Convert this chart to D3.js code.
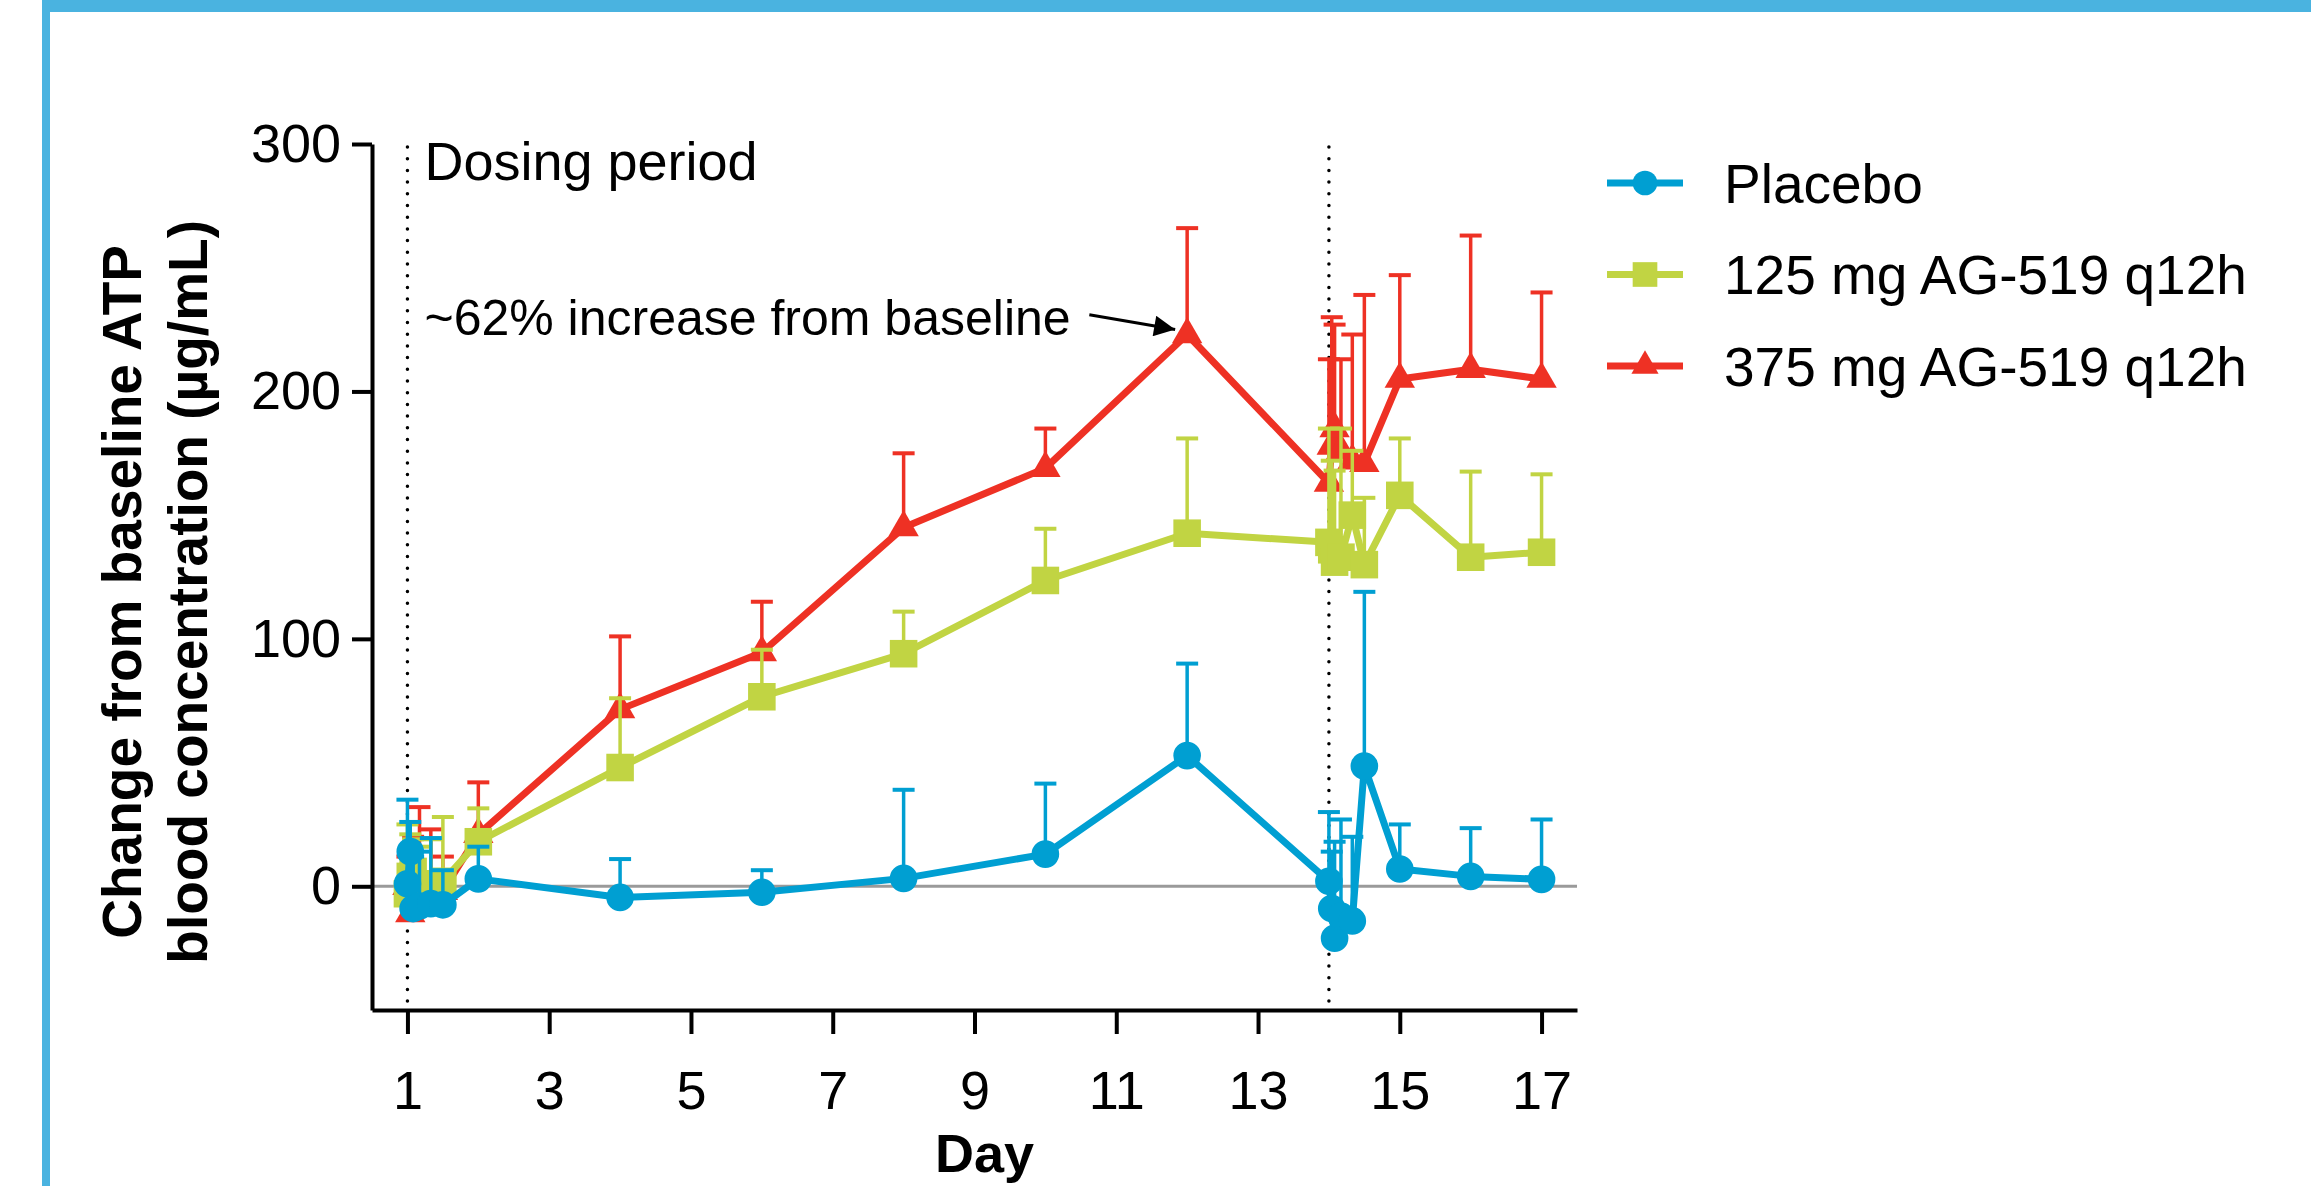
<!DOCTYPE html>
<html>
<head>
<meta charset="utf-8">
<script src="https://cdn.jsdelivr.net/npm/d3@7"></script>
<style>
  body { margin: 0; background: #fff; }
  svg { display: block; font-family: "Liberation Sans", Arial, sans-serif; }
</style>
</head>
<body>
<svg></svg>
<script>
// sampling days (day 1 and day 14 have hourly points: 0, 1, 2, 4, 8, 12 h)
var days = [1, 1.04, 1.08, 1.17, 1.33, 1.5, 2, 4, 6, 8, 10, 12,
            14, 14.04, 14.08, 14.17, 14.33, 14.5, 15, 16, 17];

// mean change from baseline and mean + SD (top of error bar)
var placeboMean  = [1, 14, -9, -8, -7, -7.5, 3, -4.5, -2.4, 3.2, 13, 52.8,
                    2, -9, -21, -12, -14, 48.6, 7, 4, 2.8];
var placeboUpper = [35, 26, 12, 14, 19.5, 6.5, 16, 11, 6.5, 39, 41.5, 90,
                    30, 14, 18, 27, 20, 119, 25, 23.5, 27];

var lowMean  = [-3, 4, 6, 1, 1, 2, 18, 48, 76.6, 94, 123.6, 142.7,
                139, 136, 131, 133, 150, 130, 158, 133, 135];
var lowUpper = [25, 21, 19, 16, 19, 28, 31.5, 76, 95.6, 111, 144.5, 181,
                185, 172, 168, 185, 176, 157, 181, 167.6, 166.5];

var highMean  = [0, -11, 3, 2, -3, -2, 21, 71.5, 94.5, 145, 169, 223,
                 163, 178, 185, 176, 172, 171, 205, 209, 205];
var highUpper = [12, 5, 20, 32, 23, 12, 42, 101, 115, 175, 185, 266,
                 213, 230, 227, 213, 223, 239, 247, 263, 240];

var seriesNames = ["Placebo", "125 mg AG-519 q12h", "375 mg AG-519 q12h"];
var xTicks = [1, 3, 5, 7, 9, 11, 13, 15, 17];
var yTicks = [0, 100, 200, 300];
var dosingDays = [1, 14];

var screen = { width: 2311, height: 1186 };
var margins = { top: 144, bottom: 176, left: 372, right: 734 };

var svg = d3.select('svg')
  .attr('width', screen.width)
  .attr('height', screen.height);

// blue frame of the slide
svg.append('rect').attr('x', 42).attr('y', 0).attr('width', screen.width - 42).attr('height', 12).attr('fill', '#4ab3e0');
svg.append('rect').attr('x', 42).attr('y', 0).attr('width', 8).attr('height', screen.height).attr('fill', '#4ab3e0');

var xScale = d3.scaleLinear()
  .domain([0.5, 17.5])
  .range([margins.left, screen.width - margins.right]);
var yScale = d3.scaleLinear()
  .domain([-50, 300])
  .range([screen.height - margins.bottom, margins.top]);

var series = [
  { name: seriesNames[0], mean: placeboMean, upper: placeboUpper, color: '#009fd2', shape: d3.symbolCircle, size: 600 },
  { name: seriesNames[1], mean: lowMean, upper: lowUpper, color: '#c1d443', shape: d3.symbolSquare, size: 760 },
  { name: seriesNames[2], mean: highMean, upper: highUpper, color: '#ee3124', shape: d3.symbolTriangle, size: 400 }
];

// zero reference line
svg.append('line')
  .attr('x1', xScale(0.5)).attr('x2', xScale(17.5))
  .attr('y1', yScale(0)).attr('y2', yScale(0))
  .attr('stroke', '#9a9a9a').attr('stroke-width', 3);

// dosing period dotted lines
svg.selectAll('.dose')
  .data(dosingDays)
  .enter().append('line')
  .attr('class', 'dose')
  .attr('x1', function(d){ return xScale(d); })
  .attr('x2', function(d){ return xScale(d); })
  .attr('y1', yScale(300) + 3)
  .attr('y2', yScale(-50))
  .attr('stroke', '#000')
  .attr('stroke-width', 3.5)
  .attr('stroke-linecap', 'round')
  .attr('stroke-dasharray', '0 11.7');

// axes
var xAxis = d3.axisBottom(xScale).tickValues(xTicks).tickSize(24).tickSizeOuter(0).tickPadding(37);
var yAxis = d3.axisLeft(yScale).tickValues(yTicks).tickSize(20).tickSizeOuter(0).tickPadding(11);

var gx = svg.append('g').classed('xAxis', true)
  .attr('transform', 'translate(0,' + yScale(-50) + ')')
  .call(xAxis);
var gy = svg.append('g').classed('yAxis', true)
  .attr('transform', 'translate(' + xScale(0.5) + ',0)')
  .call(yAxis);

[gx, gy].forEach(function(g){
  g.select('.domain').attr('stroke', '#000').attr('stroke-width', 4);
  g.selectAll('.tick line').attr('stroke', '#000').attr('stroke-width', 4);
  g.selectAll('.tick text').attr('fill', '#000').attr('font-size', 54)
    .attr('font-family', '"Liberation Sans", Arial, sans-serif');
});

// axis titles
svg.append('text')
  .attr('x', (xScale(0.5) + xScale(17.5)) / 2 + 10)
  .attr('y', 1172)
  .attr('text-anchor', 'middle')
  .attr('font-size', 54).attr('font-weight', 'bold')
  .text('Day');

var yTitle = svg.append('text')
  .attr('transform', 'translate(141,' + yScale(119) + ') rotate(-90)')
  .attr('text-anchor', 'middle')
  .attr('font-size', 55).attr('font-weight', 'bold');
yTitle.append('tspan').attr('x', 0).attr('y', 0).text('Change from baseline ATP');
yTitle.append('tspan').attr('x', 0).attr('y', 66).text('blood concentration (\u00b5g/mL)');

// series, drawn red first so placebo sits on top
var plotOrder = series.slice().reverse();
var line = function(s){
  return d3.line()
    .x(function(d, i){ return xScale(days[i]); })
    .y(function(d){ return yScale(d); })(s.mean);
};

plotOrder.forEach(function(s){
  var g = svg.append('g').attr('class', 'series');
  // error bars (mean + SD)
  var bars = g.selectAll('.err')
    .data(s.mean)
    .enter().append('g').attr('class', 'err');
  bars.append('line')
    .attr('x1', function(d, i){ return xScale(days[i]); })
    .attr('x2', function(d, i){ return xScale(days[i]); })
    .attr('y1', function(d){ return yScale(d); })
    .attr('y2', function(d, i){ return yScale(s.upper[i]); })
    .attr('stroke', s.color).attr('stroke-width', 3.5);
  bars.append('line')
    .attr('x1', function(d, i){ return xScale(days[i]) - 11; })
    .attr('x2', function(d, i){ return xScale(days[i]) + 11; })
    .attr('y1', function(d, i){ return yScale(s.upper[i]); })
    .attr('y2', function(d, i){ return yScale(s.upper[i]); })
    .attr('stroke', s.color).attr('stroke-width', 4);
  g.append('path')
    .attr('d', line(s))
    .attr('fill', 'none')
    .attr('stroke', s.color)
    .attr('stroke-width', 7)
    .attr('stroke-linejoin', 'round');
  g.selectAll('.pt')
    .data(s.mean)
    .enter().append('path')
    .attr('class', 'pt')
    .attr('d', d3.symbol().type(s.shape).size(s.size))
    .attr('transform', function(d, i){ return 'translate(' + xScale(days[i]) + ',' + yScale(d) + ')'; })
    .attr('fill', s.color);
});

// annotations
svg.append('text')
  .attr('x', xScale(1) + 17).attr('y', yScale(300) + 36)
  .attr('font-size', 54)
  .text('Dosing period');
svg.append('text')
  .attr('x', xScale(1) + 17).attr('y', yScale(223))
  .attr('font-size', 50)
  .text('~62% increase from baseline');

svg.append('defs').append('marker')
  .attr('id', 'arrow')
  .attr('viewBox', '0 0 10 10')
  .attr('refX', 10).attr('refY', 5)
  .attr('markerWidth', 9).attr('markerHeight', 7)
  .attr('markerUnits', 'strokeWidth')
  .attr('orient', 'auto')
  .append('path').attr('d', 'M0,0 L10,5 L0,10 z').attr('fill', '#000');

svg.append('line')
  .attr('x1', xScale(10.62)).attr('y1', yScale(231))
  .attr('x2', xScale(12) - 12).attr('y2', yScale(225))
  .attr('stroke', '#000').attr('stroke-width', 3)
  .attr('marker-end', 'url(#arrow)');

// legend
var legend = svg.selectAll('.legend')
  .data(series)
  .enter().append('g')
  .attr('class', 'legend')
  .attr('transform', function(d, i){ return 'translate(1607,' + (183 + i * 91.5) + ')'; });
legend.append('line')
  .attr('x1', 0).attr('x2', 76)
  .attr('stroke', function(d){ return d.color; })
  .attr('stroke-width', 7);
legend.append('path')
  .attr('d', function(d){ return d3.symbol().type(d.shape).size(d.size * 0.8)(); })
  .attr('transform', 'translate(38,0)')
  .attr('fill', function(d){ return d.color; });
legend.append('text')
  .attr('x', 117).attr('dy', '0.36em')
  .attr('font-size', 55)
  .text(function(d){ return d.name; });
</script>
</body>
</html>
